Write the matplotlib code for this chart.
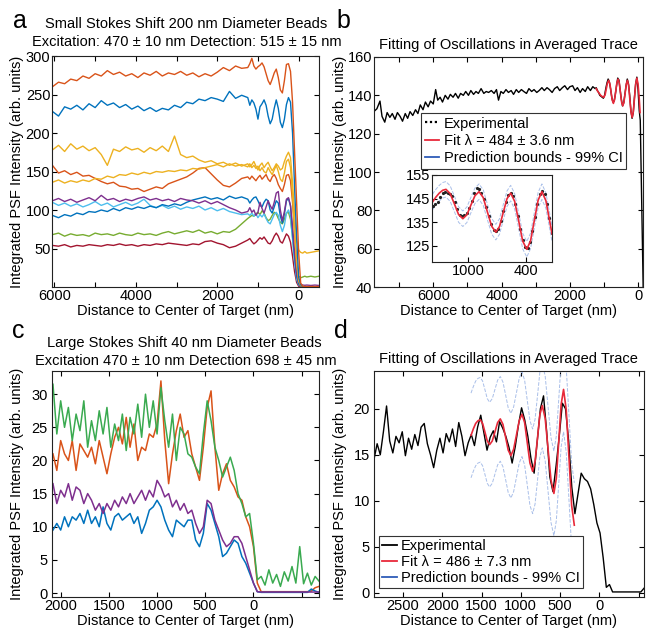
import numpy as np
import matplotlib
matplotlib.use('Agg')
import matplotlib.pyplot as plt
from matplotlib.lines import Line2D

plt.rcParams['font.family'] = ['Liberation Sans', 'DejaVu Sans']
plt.rcParams['font.size'] = 10.5

BLUE = '#0072BD'
ORANGE = '#D95319'
YELLOW = '#EDB120'
PURPLE = '#7E2F8E'
GREEN = '#77AC30'
LIGHTBLUE = '#4DBEEE'
DARKRED = '#A2142F'
C_GREEN = '#3aaa50'
FIT_RED = '#e8293a'
BOUND_BLUE = '#a9bfe9'
LEG_BLUE = '#2e5cb8'

# ---- panel a : small stokes shift beads ----
a_dist = np.concatenate([np.arange(6050, 1250, -150), np.arange(1250, -1, -50),
                         [-50, -100, -150, -200, -300, -400, -500]])
a_orange_top = [260, 266, 264, 270, 268, 274, 271, 277, 274, 281, 276, 279, 274, 277, 272, 278,
                275, 280, 274, 278, 276, 280, 275, 278, 273, 277, 274, 279, 285, 281, 287, 284,
                285, 290, 297, 287, 283, 286, 288, 291, 286, 277, 268, 263, 270, 278, 283, 272,
                256, 252, 268, 289, 290, 280, 240, 175, 110, 45,
                5, 1, 0.5, 0.5, 0.5, 0.5, 0.5]
a_blue_top = [228, 222, 234, 231, 236, 230, 238, 233, 242, 236, 239, 233, 237, 231, 235, 229,
              233, 228, 232, 230, 236, 233, 240, 238, 244, 242, 246, 244, 241, 254, 245, 249,
              246, 236, 243, 239, 231, 218, 234, 238, 243, 236, 222, 212, 218, 232, 243, 232,
              214, 207, 218, 237, 246, 240, 200, 130, 65, 13,
              3, 0.5, 0.3, 0.3, 0.3, 0.3, 0.3]
a_yellow_hi = [178, 184, 176, 186, 179, 183, 177, 181, 172, 158, 179, 176, 182, 178, 180, 175,
               181, 177, 183, 176, 196, 172, 168, 170, 165, 162, 164, 160, 162, 158, 161, 157,
               160, 156, 159, 163, 157, 152, 158, 161, 155, 159, 162, 156, 151, 155, 160, 157,
               152, 154, 163, 170, 175, 168, 135, 95, 62, 48,
               45, 44, 46, 44, 45, 46, 47]
a_yellow_lo = [136, 139, 135, 138, 136, 139, 137, 141, 140, 144, 142, 146, 145, 148, 146, 149,
               147, 150, 149, 151, 150, 152, 151, 154, 153, 155, 157, 159, 156, 160, 157, 159,
               156, 160, 155, 158, 154, 157, 151, 155, 150, 148, 155, 150, 146, 152, 158, 150,
               140, 137, 148, 163, 166, 155, 118, 70, 30, 8,
               2, 1, 0.5, 0.5, 0.5, 0.5, 0.5]
a_orange_lo = [158, 148, 151, 146, 149, 144, 145, 141, 137, 134, 136, 131, 130, 127, 128, 124,
               127, 130, 128, 134, 137, 140, 143, 148, 154, 155, 147, 139, 132, 130, 135, 141,
               143, 140, 144, 141, 138, 142, 145, 140, 143, 146, 140, 137, 143, 146, 141, 133,
               128, 124, 133, 145, 146, 138, 110, 70, 32, 8,
               1.5, 0.5, 0.3, 0.3, 0.3, 0.3, 0.3]
a_purple = [112, 115, 111, 114, 110, 113, 116, 112, 119, 113, 115, 111, 114, 112, 115, 117,
            113, 115, 112, 114, 111, 115, 113, 112, 109, 112, 108, 111, 107, 103, 100, 96,
            98, 103, 97, 100, 93, 97, 110, 102, 96, 104, 112, 106, 101, 110, 122, 124,
            100, 86, 98, 114, 116, 106, 78, 45, 18, 6,
            3.5, 2.5, 2.2, 2.5, 2, 2.5, 2]
a_lightblue = [110, 106, 109, 105, 108, 104, 107, 111, 106, 109, 104, 107, 110, 106, 109, 114,
               106, 103, 106, 102, 105, 101, 104, 102, 105, 100, 103, 99, 102, 98, 96, 94,
               95, 93, 96, 92, 95, 90, 94, 91, 95, 89, 84, 82, 88, 94, 97, 93,
               80, 72, 80, 96, 100, 92, 62, 32, 10, 3,
               1, 0.5, 0.3, 0.3, 0.3, 0.3, 0.3]
a_blue_lo = [93, 90, 94, 92, 96, 94, 98, 97, 100, 98, 102, 99, 103, 101, 104, 102,
             105, 103, 107, 105, 108, 106, 110, 113, 115, 117, 114, 116, 113, 118, 115, 117,
             114, 109, 113, 116, 117, 112, 106, 104, 110, 114, 112, 100, 96, 104, 112, 109,
             92, 83, 95, 112, 115, 105, 72, 40, 14, 4,
             1, 0.5, 0.3, 0.3, 0.3, 0.3, 0.3]
a_green = [68, 70, 66, 69, 67, 68, 66, 70, 68, 69, 67, 70, 68, 67, 70, 68,
           69, 67, 70, 72, 69, 71, 73, 71, 74, 70, 72, 69, 72, 71, 75, 82,
           89, 91, 93, 92, 95, 97, 94, 99, 96, 90, 86, 88, 93, 97, 95, 89,
           84, 82, 88, 96, 97, 88, 65, 35, 18, 14,
           12, 13, 14, 13, 14, 13, 14]
a_darkred = [54, 53, 55, 52, 54, 53, 55, 54, 53, 55, 54, 56, 54, 55, 53, 55,
             54, 56, 55, 57, 56, 55, 54, 56, 55, 59, 60, 57, 55, 51, 53, 57,
             61, 63, 59, 56, 58, 61, 64, 62, 65, 61, 57, 56, 60, 66, 70, 66,
             59, 57, 63, 69, 66, 58, 40, 20, 6, 1,
             0.3, 0.3, 0.3, 0.3, 0.3, 0.3, 0.3]

# ---- panel b : averaged trace with fit ----
b_dist = [7740, 7650, 7560, 7500, 7420, 7350, 7270, 7200, 7120, 7050, 6970, 6900, 6820, 6750,
          6680, 6600, 6520, 6450, 6380, 6300, 6230, 6150, 6080, 6000, 5930, 5870, 5800, 5730,
          5650, 5570, 5500, 5420, 5350, 5270, 5200, 5120, 5050, 4970, 4900, 4820, 4750, 4680,
          4600, 4520, 4450, 4380, 4300, 4220, 4150, 4090, 4020, 3950, 3870, 3800, 3720, 3650,
          3570, 3500, 3420, 3350, 3270, 3200, 3120, 3050, 2970, 2900, 2820, 2750, 2670, 2600,
          2520, 2450, 2370, 2300, 2220, 2150, 2070, 2000, 1920, 1850, 1780, 1700, 1630, 1550,
          1480, 1400, 1330, 1260, 1230, 1195, 1160, 1125, 1090, 1055, 1020, 985, 950, 915, 880,
          845, 810, 775, 740, 705, 670, 635, 600, 565, 530, 495, 460, 425, 390, 355, 320, 285,
          250, 215, 180, 145, 110, 75, 40, 5, -30, -60, -150]
b_exp = [131.5, 133, 137, 129, 126, 131, 128.5, 130.5, 127.5, 131, 129, 126.5, 130.5, 128,
         131.5, 129.5, 132.5, 130.5, 135, 132.5, 136.5, 134, 137, 135.5, 143, 137.5, 139, 136.5,
         140, 138, 140.5, 139, 141, 138.5, 141, 140, 142, 140, 142.5, 140.5, 142, 141,
         143.5, 141, 142, 141.5, 142.5, 141, 143, 137.5, 142, 141, 143, 141.5, 142.5, 140.5,
         143, 141.5, 143, 142, 141, 143.5, 142, 143, 141.5, 142.5, 144, 142.5, 144, 143,
         141.5, 143.5, 144.5, 142.5, 144, 145, 143, 144.5, 145, 142.5, 144, 141.5, 143.5, 142,
         144.5, 142.5, 144.5, 143.5, 144, 142.5, 141.5, 140, 139.5, 139, 138.5, 140, 143.5, 146.5, 148.5,
         147, 143.5, 139, 136.5, 137, 140.5, 145, 149, 148, 143, 138, 134.5, 136, 140.5, 145, 148.5, 146,
         140, 132, 128, 131, 139, 146, 149.5, 143, 132, 127, 35]
b_fit_dist = [1230, 1190, 1140, 1100, 1050, 1005, 970, 935, 900, 865, 830, 796, 761, 727,
              693, 658, 624, 590, 555, 521, 486, 452, 418, 383, 349, 315, 280, 246, 211, 177,
              143, 108, 74, 40, 6, -25, -55]
b_fit = [143.5, 142.2, 141.0, 140.0, 139.3, 139.0, 140.3, 143.4, 146.5, 147.8, 146.0, 141.8,
         137.6, 135.8, 137.7, 142.2, 146.6, 148.5, 146.5, 141.5, 136.5, 134.5, 136.4, 141.2,
         145.9, 147.8, 145.0, 138.2, 131.3, 128.5, 131.5, 138.8, 146.0, 149.0, 146.0, 139.5, 131.0]

# inset of panel b
inset_dist = np.arange(1360, 134, -25)
inset_exp = [141.8, 142.5, 143.5, 145.5, 147.2, 147.8, 147.5, 146.8, 146.0, 143.5,
             140.5, 138.2, 137.6, 137.8, 138.9, 141.0, 144.0, 147.2, 149.5, 149.2,
             147.5, 145.0, 141.5, 137.5, 134.0, 131.8, 131.0, 132.2, 135.3, 139.5,
             143.5, 146.3, 147.2, 146.0, 142.8, 137.6, 132.2, 127.5, 124.5, 124.0,
             126.3, 131.0, 137.0, 142.8, 147.0, 148.2, 146.8, 142.5, 136.8, 130.5]
inset_fit_dist = [1365, 1330, 1295, 1260, 1226, 1183, 1139, 1096, 1052, 1010, 969, 927, 885,
                  842, 799, 755, 712, 674, 636, 597, 559, 518, 476, 435, 393, 354, 315, 276,
                  237, 196, 155, 133]
inset_fit = [143.5, 145.6, 147.3, 148.5, 148.9, 147.1, 142.7, 138.2, 136.4, 138.1, 142.2,
             146.2, 147.9, 145.4, 139.3, 133.2, 130.7, 133.1, 139.0, 144.9, 147.3, 143.8,
             135.4, 126.9, 123.4, 127.0, 135.7, 144.3, 147.9, 144.1, 135.0, 130.0]
inset_upper = [146.8, 148.9, 150.6, 151.8, 152.2, 150.4, 146.0, 141.5, 139.7, 141.4, 145.5,
               149.5, 151.2, 148.7, 142.6, 136.5, 134.0, 136.4, 142.3, 148.2, 150.6, 147.1,
               138.7, 130.2, 126.7, 130.3, 139.0, 147.6, 151.2, 147.4, 138.3, 133.3]
inset_lower = [140.2, 142.3, 144.0, 145.2, 145.6, 143.8, 139.4, 134.9, 133.1, 134.8, 138.9,
               142.9, 144.6, 142.1, 136.0, 129.9, 127.4, 129.8, 135.7, 141.6, 144.0, 140.5,
               132.1, 123.6, 120.1, 123.7, 132.4, 141.0, 144.6, 140.8, 131.7, 126.7]

# ---- panel c : large stokes shift beads ----
c_dist = np.arange(2080, -700, -40)
c_green = [31.5, 24, 29, 25, 28, 23, 27, 24.5, 29, 22, 26, 23, 27.5, 24, 28, 22, 25.5, 23,
           27, 21.5, 26.5, 24, 28.5, 23.5, 30, 25, 29, 24, 31, 26, 22, 27, 20, 25,
           24, 21, 20.5, 19, 18, 24, 29, 26, 22, 20, 17.5, 19, 20.5, 18.5, 15, 13.5, 11.5, 12, 7.5,
           2, 2.5, 1.2, 3.5, 1.5, 2.8, 1.0, 3.2, 1.8, 4.0, 1.5, 7.0, 1.4, 3.0, 1.2, 2.5, 1.8]
c_orange = [21, 18.5, 23, 21, 20, 23, 18.5, 22.5, 21.5, 20.5, 22, 19.5, 23, 20.5, 18, 21, 23.5, 25,
            22.5, 26.5, 22, 25.5, 20, 22, 21.5, 24, 23.5, 25.5, 32, 23, 16.5, 21, 24.5, 27,
            23.5, 24.5, 21, 19, 17, 22, 28, 30.5, 22, 15.5, 18, 19.5, 17, 16, 14.5, 14, 11.5, 10, 7,
            1.5, 0.2, 0.2, 0.2, 0.2, 0.2, 0.2, 0.2, 0.2, 0.2, 0.2, 0.2, 0.2, 0.2, 0.3, 0.8, 1.0]
c_purple = [16.5, 13.5, 15.5, 14.5, 16.5, 14, 16, 15.5, 13.5, 15, 14, 12.5, 13.5, 12, 13.5, 12.5,
            14, 13, 14.5, 13.5, 15, 13.5, 14.5, 15.5, 14, 15.5, 14.5, 17, 16, 14.5, 15, 13, 14, 12.5,
            13.5, 12, 12.5, 10.5, 9, 10, 14, 13.5, 11, 9.5, 8, 7, 7.5, 8.5, 8.5, 7.5, 5.5, 3.5, 1.5,
            0.2, 0.15, 0.15, 0.15, 0.15, 0.15, 0.15, 0.15, 0.15, 0.15, 0.15, 0.15, 0.15, 0.15,
            0.15, 0.15, 0.15]
c_blue = [9.5, 10.5, 9.5, 11.5, 10, 11.5, 11, 12, 10.5, 12.5, 10.5, 11.5, 10, 13, 10.5, 9.5,
          11.5, 12, 11, 11.5, 12, 10.5, 11.5, 9, 10.5, 12.5, 13, 14, 13, 11, 9.5, 8.5, 11, 10.5,
          10, 11, 11, 8, 7, 9, 13.5, 12.5, 10.5, 8.5, 5.5, 6, 7, 8, 7.5, 5.5, 4.5, 3, 1.5,
          0.2, 0.1, 0.1, 0.1, 0.1, 0.1, 0.1, 0.1, 0.1, 0.1, 0.1, 0.1, 0.1, 0.1, 0.6, 0.3, 0.1]

# ---- panel d : averaged trace with fit ----
d_dist = np.arange(2870, -571, -40)
d_exp = [14.5, 16.2, 15.0, 17.5, 20.3, 16.5, 15.2, 17.0, 16.3, 17.5, 14.9, 16.8, 15.6, 17.2,
         16.0, 18.0, 18.4, 16.2, 15.0, 13.6, 15.5, 16.8, 15.2, 17.3, 16.4, 17.8, 15.9, 18.5,
         17.0, 14.9, 16.3, 17.2,
         16.0, 18.0, 19.3, 17.4, 15.5, 16.9, 17.6, 16.4, 18.6, 17.9, 17.0, 15.8, 14.1, 15.9,
         18.2, 20.1, 18.8, 17.0, 14.6, 13.0, 16.5, 20.0, 21.4, 17.5, 12.6, 11.0, 13.8, 17.0,
         20.6, 20.0, 16.5, 11.5, 8.6, 10.8, 13.0, 12.4, 12.1, 11.3, 9.6, 7.6, 6.5,
         3.8, 0.6, 0.9,
         0.1, 0.1, 0.1, 0.1, 0.1, 0.1, 0.1, 0.1, 0.1, 0.1, 0.5]
d_fit_dist = [1634, 1605, 1575, 1545, 1516, 1486, 1456, 1427, 1397, 1363, 1329, 1295, 1261,
              1227, 1193, 1160, 1126, 1091, 1055, 1020, 985, 951, 917, 883, 849, 818, 787, 757,
              726, 689, 652, 615, 578, 547, 516, 486, 455, 421, 386, 352, 318]
d_fit = [17.1, 17.8, 18.4, 18.7, 18.8, 18.4, 17.45, 16.5, 16.1, 16.5, 17.5, 18.5, 18.9, 18.3,
         16.9, 15.5, 14.9, 15.6, 17.15, 18.7, 19.4, 18.5, 16.3, 14.1, 13.2, 14.25, 16.8, 19.35,
         20.35, 18.95, 15.6, 12.25, 10.8, 12.45, 16.45, 20.45, 22.1, 19.9, 14.7, 9.5, 7.35]
d_upper = [21.7, 22.4, 23.0, 23.3, 23.4, 23.0, 22.05, 21.1, 20.7, 21.1, 22.1, 23.1, 23.5, 22.9,
           21.5, 20.1, 19.5, 20.2, 21.75, 23.3, 24.0, 23.1, 20.9, 18.7, 17.8, 18.85, 21.4, 23.95,
           24.95, 23.55, 20.2, 16.85, 15.4, 17.05, 21.05, 25.05, 26.7, 24.5, 19.3, 14.1, 11.95]
d_lower = [12.5, 13.2, 13.8, 14.1, 14.2, 13.8, 12.85, 11.9, 11.5, 11.9, 12.9, 13.9, 14.3, 13.7,
           12.3, 10.9, 10.3, 11.0, 12.55, 14.1, 14.8, 13.9, 11.7, 9.5, 8.6, 9.65, 12.2, 14.75,
           15.75, 14.35, 11.0, 7.65, 6.2, 7.85, 11.85, 15.85, 17.5, 15.3, 10.1, 4.9, 2.75]

XLABEL = 'Distance to Center of Target (nm)'
YLABEL = 'Integrated PSF Intensity (arb. units)'
W, H = 646, 628


def px_axes(fig, left, top, right, bottom):
    return fig.add_axes([left / W, 1 - bottom / H, (right - left) / W, (bottom - top) / H])


def fig_text(fig, x, y, s, **kw):
    fig.text(x / W, 1 - y / H, s, ha='center', va='baseline', **kw)


def style_axes(ax, ypad=1.2):
    ax.tick_params(direction='in', top=True, right=True, length=3.5, width=0.8)
    ax.tick_params(axis='x', pad=1.5)
    ax.tick_params(axis='y', pad=ypad)
    for s in ax.spines.values():
        s.set_linewidth(0.8)
        s.set_color('#222222')


def set_labels(ax, height_px, ylab_x):
    ax.set_xlabel(XLABEL)
    ax.set_ylabel(YLABEL)
    ax.xaxis.set_label_coords(0.5, -16.5 / height_px)
    ax.yaxis.set_label_coords(ylab_x, 0.5)


def main():
    fig = plt.figure(figsize=(W / 100, H / 100), dpi=100)

    # panel a
    ax = px_axes(fig, 52, 56, 319, 287)
    traces = [(a_darkred, DARKRED), (a_green, GREEN), (a_lightblue, LIGHTBLUE),
              (a_blue_lo, BLUE), (a_purple, PURPLE), (a_orange_lo, ORANGE),
              (a_yellow_lo, YELLOW), (a_yellow_hi, YELLOW), (a_blue_top, BLUE),
              (a_orange_top, ORANGE)]
    for y, c in traces:
        ax.plot(a_dist, y, color=c, lw=1.0)
    ax.set_xlim(6060, -500)
    ax.set_ylim(0, 300)
    ax.set_yticks([50, 100, 150, 200, 250, 300])
    ax.set_xticks([6000, 5000, 4000, 3000, 2000, 1000, 0])
    ax.set_xticklabels(['6000', '', '4000', '', '2000', '', '0'])
    style_axes(ax)
    set_labels(ax, 231, -0.105)

    # panel b
    ax = px_axes(fig, 374, 57, 643, 287)
    ax.plot(b_dist, b_exp, color='k', lw=1.0)
    ax.plot(b_fit_dist, b_fit, color=FIT_RED, lw=1.2)
    ax.set_xlim(7735, -140)
    ax.set_ylim(40, 160)
    ax.set_yticks(range(40, 161, 20))
    ax.set_xticks([7000, 6000, 5000, 4000, 3000, 2000, 1000, 0])
    ax.set_xticklabels(['', '6000', '', '4000', '', '2000', '', '0'])
    style_axes(ax)
    set_labels(ax, 230, -0.102)
    handles = [Line2D([], [], color='k', ls=(0, (1, 1.2)), lw=1.6),
               Line2D([], [], color=FIT_RED, lw=1.3),
               Line2D([], [], color=LEG_BLUE, lw=1.3)]
    labels = ['Experimental', 'Fit \u03bb = 484 \u00b1 3.6 nm', 'Prediction bounds - 99% CI']
    leg = ax.legend(handles, labels, loc='upper left', bbox_to_anchor=(0.175, 0.757),
                    borderaxespad=0, fancybox=False, framealpha=1, edgecolor='#333333',
                    handlelength=1.0, handletextpad=0.3, borderpad=0.25, labelspacing=0.22)
    leg.get_frame().set_linewidth(0.8)

    ins = px_axes(fig, 432, 175, 552, 262)
    ins.plot(inset_fit_dist, inset_upper, color=BOUND_BLUE, lw=0.7, ls='--')
    ins.plot(inset_fit_dist, inset_lower, color=BOUND_BLUE, lw=0.7, ls='--')
    ins.plot(inset_dist, inset_exp, 'o', color='#222222', ms=2.3, mew=0)
    ins.plot(inset_fit_dist, inset_fit, color=FIT_RED, lw=1.2)
    ins.set_xlim(1370, 133)
    ins.set_ylim(118, 155)
    ins.set_yticks([125, 135, 145, 155])
    ins.set_xticks([1000, 400])
    style_axes(ins)
    ins.tick_params(top=False, right=False)

    # panel c
    ax = px_axes(fig, 52, 371, 319, 597)
    for y, c in [(c_orange, ORANGE), (c_green, C_GREEN), (c_blue, BLUE), (c_purple, PURPLE)]:
        ax.plot(c_dist, y, color=c, lw=1.1)
    ax.set_xlim(2090, -680)
    ax.set_ylim(-0.6, 33.5)
    ax.set_yticks(range(0, 31, 5))
    ax.set_xticks([2000, 1500, 1000, 500, 0, -500])
    ax.set_xticklabels(['2000', '1500', '1000', '500', '0', ''])
    style_axes(ax, ypad=3.0)
    set_labels(ax, 226, -0.105)

    # panel d
    ax = px_axes(fig, 374, 371, 644, 597)
    ax.plot(d_fit_dist, d_upper, color=BOUND_BLUE, lw=0.7, ls='--')
    ax.plot(d_fit_dist, d_lower, color=BOUND_BLUE, lw=0.7, ls='--')
    ax.plot(d_dist, d_exp, color='k', lw=1.0)
    ax.plot(d_fit_dist, d_fit, color=FIT_RED, lw=1.2)
    ax.set_xlim(2870, -570)
    ax.set_ylim(-0.45, 24.1)
    ax.set_yticks([0, 5, 10, 15, 20])
    ax.set_xticks([2500, 2000, 1500, 1000, 500, 0, -500])
    ax.set_xticklabels(['2500', '2000', '1500', '1000', '500', '0', ''])
    style_axes(ax, ypad=3.0)
    set_labels(ax, 226, -0.1)
    handles = [Line2D([], [], color='k', lw=1.3),
               Line2D([], [], color=FIT_RED, lw=1.3),
               Line2D([], [], color=LEG_BLUE, lw=1.3)]
    labels = ['Experimental', 'Fit \u03bb = 486 \u00b1 7.3 nm', 'Prediction bounds - 99% CI']
    leg = ax.legend(handles, labels, loc='upper left', bbox_to_anchor=(0.019, 0.27),
                    borderaxespad=0, fancybox=False, framealpha=1, edgecolor='#333333',
                    handlelength=1.0, handletextpad=0.3, borderpad=0.2, labelspacing=0.15)
    leg.get_frame().set_linewidth(0.8)

    # titles and panel letters
    fig_text(fig, 186, 28.5, 'Small Stokes Shift 200 nm Diameter Beads')
    fig_text(fig, 187, 46.5, 'Excitation: 470 \u00b1 10 nm Detection: 515 \u00b1 15 nm')
    fig_text(fig, 508, 49.5, 'Fitting of Oscillations in Averaged Trace')
    fig_text(fig, 184, 346.5, 'Large Stokes Shift 40 nm Diameter Beads')
    fig_text(fig, 186, 365, 'Excitation 470 \u00b1 10 nm Detection 698 \u00b1 45 nm')
    fig_text(fig, 508, 363.5, 'Fitting of Oscillations in Averaged Trace')
    fig_text(fig, 20, 28.5, 'a', fontsize=18)
    fig_text(fig, 343, 28.5, 'b', fontsize=18)
    fig_text(fig, 18.5, 338.5, 'c', fontsize=18)
    fig_text(fig, 341, 338.5, 'd', fontsize=18)

    fig.savefig('out.png', dpi=100)


if __name__ == '__main__':
    main()
